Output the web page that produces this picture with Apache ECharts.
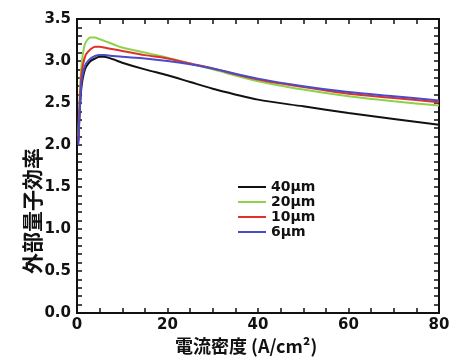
<!DOCTYPE html>
<html>
<head>
<meta charset="utf-8">
<script src="https://cdn.jsdelivr.net/npm/echarts@6/dist/echarts.min.js"></script>
</head>
<body style="margin:0;background:#fff">
<div id="chart" style="width:464px;height:363px"></div>
<div id="err" style="position:absolute;left:0;top:0;font:9px sans-serif;color:#c00"></div>
<script>
  // current density (A/cm2)
  var xData = [0.3, 0.6, 1, 1.5, 2, 3, 4, 5, 6, 8, 10, 15, 20, 25, 30, 40, 50, 60, 70, 80]
  var names = ['40μm', '20μm', '10μm', '6μm']
  var s40 = [2.05, 2.4, 2.7, 2.85, 2.93, 3.0, 3.03, 3.05, 3.05, 3.02, 2.98, 2.9, 2.83, 2.75, 2.67, 2.54, 2.46, 2.38, 2.31, 2.24]
  var s20 = [2.1, 2.6, 2.95, 3.15, 3.23, 3.28, 3.28, 3.26, 3.24, 3.2, 3.16, 3.1, 3.04, 2.97, 2.9, 2.76, 2.66, 2.58, 2.52, 2.47]
  var s10 = [2.05, 2.5, 2.85, 3.0, 3.08, 3.14, 3.17, 3.17, 3.16, 3.14, 3.12, 3.07, 3.03, 2.97, 2.91, 2.78, 2.69, 2.61, 2.56, 2.51]
  var s6 = [2.0, 2.4, 2.75, 2.9, 2.97, 3.03, 3.06, 3.07, 3.07, 3.06, 3.05, 3.03, 3.0, 2.96, 2.91, 2.79, 2.7, 2.63, 2.58, 2.53]
  var colors = ['#111111', '#8cd24a', '#e0302c', '#4b4bc8']
  var xTitle = '電流密度 (A/cm²)'
  var yTitle = '外部量子効率'

  function pairs(ys) {
    return xData.map(function (x, i) { return [x, ys[i]] })
  }

  // frame axes: line + inside ticks only
  function tickAxis(extra) {
    return Object.assign({
      type: 'value',
      axisLine: { show: true, onZero: false, lineStyle: { color: '#111', width: 2 } },
      axisTick: { show: true, inside: true, length: 5, lineStyle: { color: '#111', width: 1.5 } },
      splitLine: { show: false },
      axisLabel: { show: false }
    }, extra)
  }

  // label axes: labels only
  function labelAxis(extra) {
    return Object.assign({
      type: 'value',
      axisLine: { show: false },
      axisTick: { show: false },
      splitLine: { show: false }
    }, extra)
  }

  function yLabel(v) {
    var n = +v
    return isFinite(n) ? n.toFixed(1) : ''
  }

  var labelFont = { color: '#111', fontSize: 15, fontWeight: 'bold', fontFamily: 'DejaVu Sans' }

  try {
    var chart = echarts.init(document.getElementById('chart'))
    chart.setOption({
      animation: false,
      grid: { left: 77, right: 25, top: 19, bottom: 50, show: true, borderColor: '#111', borderWidth: 2 },
      legend: {
        orient: 'vertical',
        left: 233,
        top: 175,
        itemGap: 1,
        itemWidth: 28,
        itemHeight: 2,
        icon: 'rect',
        textStyle: { color: '#111', fontSize: 14, fontWeight: 'bold', fontFamily: 'DejaVu Sans' },
        data: names
      },
      xAxis: [
        tickAxis({ min: 0, max: 80, interval: 5 }),
        tickAxis({ position: 'top', min: 0, max: 80, interval: 5 }),
        labelAxis({
          position: 'bottom', min: 0, max: 80, interval: 20,
          axisLabel: Object.assign({ show: true, margin: 5 }, labelFont)
        })
      ],
      yAxis: [
        tickAxis({ min: 0, max: 3.5, interval: 0.1 }),
        tickAxis({ position: 'right', min: 0, max: 3.5, interval: 0.1 }),
        labelAxis({
          position: 'left', min: 0, max: 3.5, interval: 0.5,
          axisLabel: Object.assign({ show: true, margin: 6, formatter: yLabel }, labelFont)
        })
      ],
      graphic: [{
        type: 'text',
        left: 22,
        top: 148,
        rotation: Math.PI / 2,
        style: { text: yTitle, fill: '#111', font: 'bold 21px "Noto Sans CJK JP"' }
      }, {
        type: 'text',
        left: 175,
        top: 337,
        style: { text: xTitle, fill: '#111', font: 'bold 18px "Noto Sans CJK JP"' }
      }],
      series: [s40, s20, s10, s6].map(function (ys, i) {
        return {
          name: names[i],
          type: 'line',
          smooth: 0.3,
          symbol: 'none',
          color: colors[i],
          lineStyle: { width: 2, color: colors[i] },
          data: pairs(ys)
        }
      })
    })
  } catch (e) {
    document.getElementById('err').textContent = String(e && e.message)
  }
</script>
</body>
</html>
